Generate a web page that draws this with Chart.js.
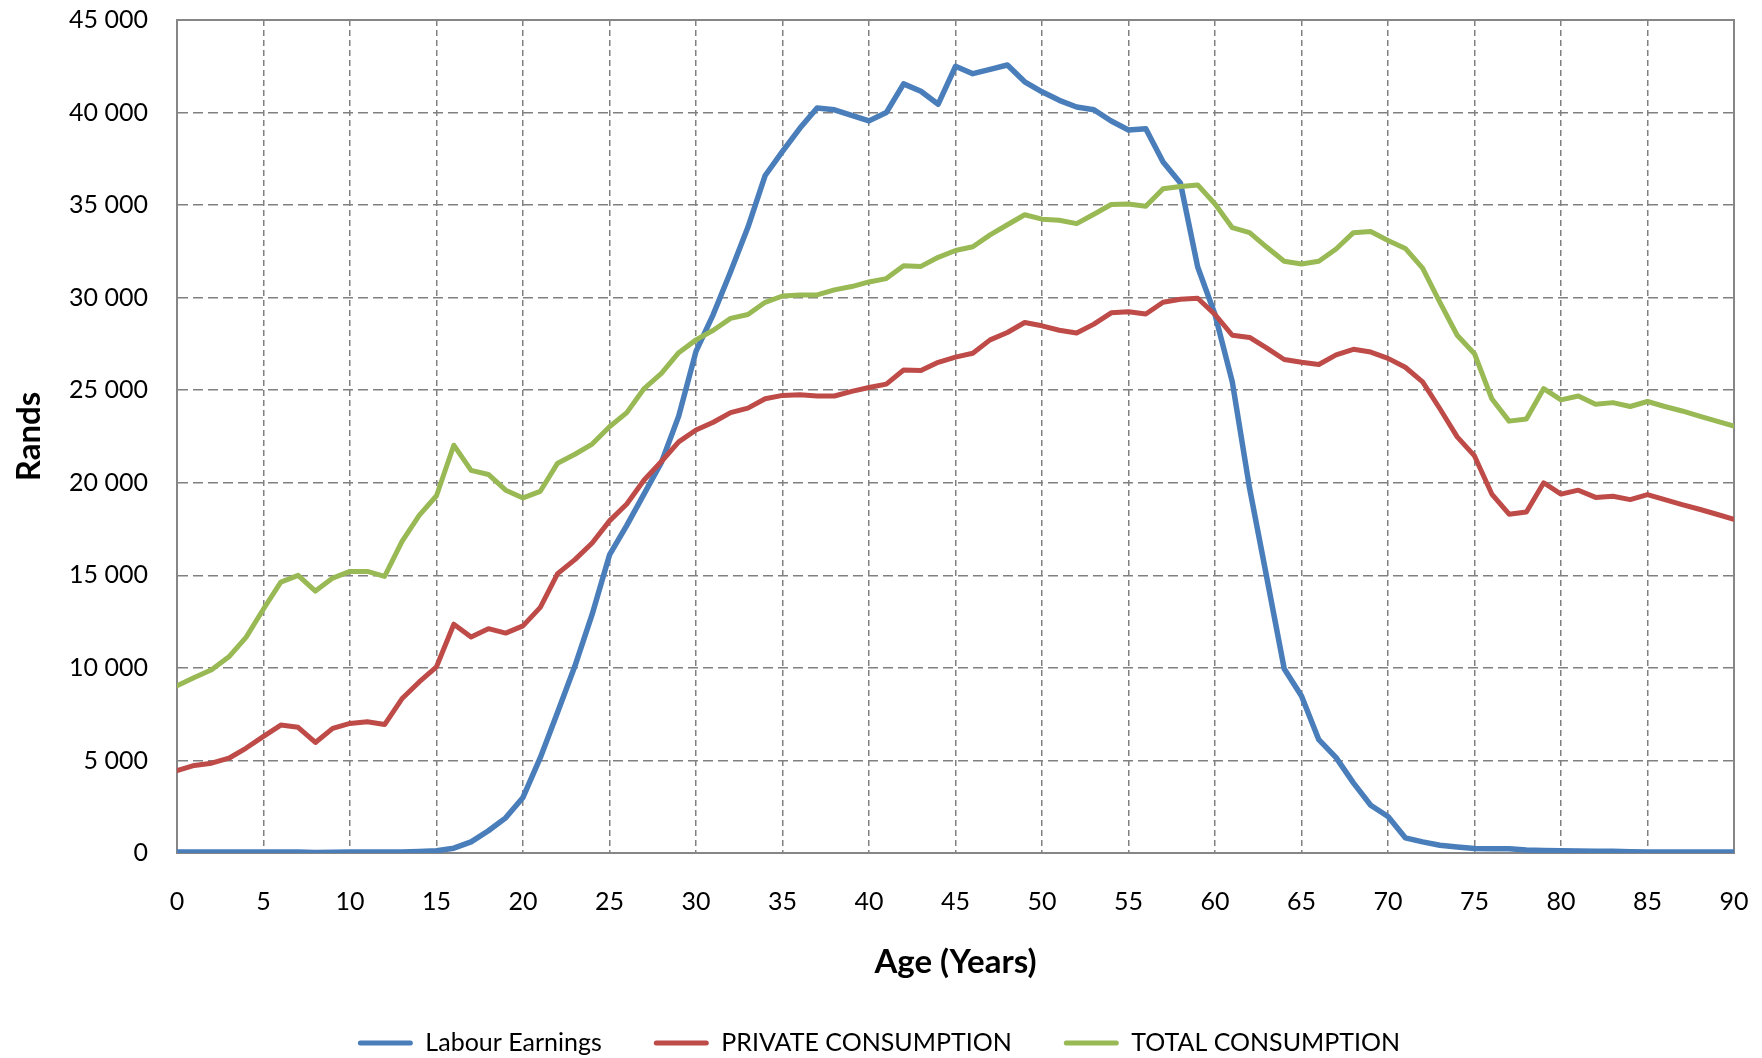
<!DOCTYPE html>
<html>
<head>
<meta charset="utf-8">
<script src="https://cdn.jsdelivr.net/npm/chart.js@4"></script>
<style>
  html, body { margin: 0; padding: 0; background: #ffffff; }
  #c { display: block; }
</style>
</head>
<body>
<canvas id="c" width="1762" height="1058"></canvas>
<script>
// ---- DATA ----
const ages = [0,1,2,3,4,5,6,7,8,9,10,11,12,13,14,15,16,17,18,19,20,21,22,23,24,25,26,27,28,29,30,
  31,32,33,34,35,36,37,38,39,40,41,42,43,44,45,46,47,48,49,50,51,52,53,54,55,56,57,58,59,60,
  61,62,63,64,65,66,67,68,69,70,71,72,73,74,75,76,77,78,79,80,81,82,83,84,85,86,87,88,89,90];

const labourEarnings = [60,60,60,60,60,55,55,50,30,40,50,50,50,60,80,120,260,600,1200,1900,3000,
  5150,7600,10100,12900,16100,17700,19400,21100,23600,27100,
  29100,31400,33800,36600,37900,39150,40250,40150,39850,39550,
  40000,41550,41150,40450,42500,42100,42330,42570,41660,41120,
  40660,40300,40150,39540,39060,39120,37330,36200,31660,29090,
  25450,19700,14850,9950,8480,6120,5150,3790,2580,1970,
  820,600,420,330,240,230,230,160,140,120,
  110,100,90,70,50,60,60,55,50,60];

const privateConsumption = [4450,4730,4850,5120,5670,6300,6910,6790,5970,6730,7000,
  7090,6940,8330,9240,10060,12360,11670,12120,11880,12270,
  13270,15090,15850,16750,17940,18850,20150,21150,22210,22850,
  23270,23790,24030,24540,24720,24750,24690,24690,24940,25150,
  25330,26090,26060,26510,26790,27000,27720,28120,28660,28480,
  28240,28090,28570,29180,29240,29120,29750,29910,29970,29090,
  27970,27850,27270,26660,26510,26390,26910,27210,27060,26720,
  26240,25450,24000,22480,21450,19390,18300,18420,20000,19390,
  19600,19210,19270,19090,19360,19090,18820,18570,18300,18030];

const totalConsumption = [9030,9480,9900,10600,11660,13180,14630,15000,14150,14850,15210,
  15210,14940,16820,18240,19300,22030,20670,20450,19600,19180,
  19540,21060,21540,22090,23030,23790,25090,25910,27030,27720,
  28240,28880,29090,29750,30090,30150,30150,30420,30600,30850,
  31030,31720,31690,32180,32550,32750,33390,33940,34480,34240,
  34180,34000,34510,35030,35060,34940,35880,36000,36090,35060,
  33780,33510,32720,31970,31820,31970,32630,33510,33570,33090,
  32660,31600,29750,27970,26970,24540,23330,23450,25090,24480,
  24690,24240,24330,24120,24390,24120,23880,23600,23330,23060];

const seriesNames = ['Labour Earnings', 'PRIVATE CONSUMPTION', 'TOTAL CONSUMPTION'];
const xTitle = 'Age (Years)';
const yTitle = 'Rands';
const xMin = 0, xMax = 90, xStep = 5;
const yMin = 0, yMax = 45000, yStep = 5000;

// ---- STYLE ----
const colors = ['#4A7EBB', '#BE4B48', '#98B954'];
const FONT = 'Lato, "Open Sans", "DejaVu Sans", sans-serif';
const gridColor = '#808080';

function pts(vals) { return ages.map((a, i) => ({ x: a, y: vals[i] })); }
function fmt(v) { return String(v).replace(/\B(?=(\d{3})+(?!\d))/g, ' '); }

const frame = {
  id: 'frame',
  beforeDatasetsDraw(chart) {
    const { ctx, chartArea: a } = chart;
    ctx.save();
    ctx.setLineDash([]);
    ctx.strokeStyle = '#868686';
    ctx.lineWidth = 2;
    ctx.strokeRect(a.left, a.top, a.right - a.left, a.bottom - a.top);
    ctx.restore();
  }
};

const mk = (i, vals, width, order) => ({
  label: seriesNames[i],
  data: pts(vals),
  borderColor: colors[i],
  backgroundColor: colors[i],
  borderWidth: width,
  pointRadius: 0,
  pointHoverRadius: 0,
  tension: 0,
  borderJoinStyle: 'round',
  borderCapStyle: 'round',
  order: order
});

new Chart(document.getElementById('c'), {
  type: 'line',
  data: {
    datasets: [
      mk(0, labourEarnings, 5.5, 3),
      mk(1, privateConsumption, 5, 2),
      mk(2, totalConsumption, 5, 1)
    ]
  },
  plugins: [frame],
  options: {
    responsive: false,
    devicePixelRatio: 1,
    animation: false,
    events: [],
    layout: { padding: { top: 20, right: 28, bottom: -7.5, left: 24 } },
    plugins: {
      tooltip: { enabled: false },
      legend: {
        position: 'bottom',
        align: 'center',
        labels: {
          font: { family: FONT, size: 25 },
          color: '#000000',
          boxWidth: 55,
          boxHeight: 5,
          padding: 52,
          useBorderRadius: true,
          borderRadius: 2.5,
          generateLabels(chart) {
            return chart.data.datasets.map((ds, i) => ({
              text: ds.label,
              fillStyle: ds.borderColor,
              strokeStyle: ds.borderColor,
              lineWidth: 0,
              hidden: false,
              datasetIndex: i,
              borderRadius: 2.5
            }));
          }
        }
      }
    },
    scales: {
      x: {
        type: 'linear',
        min: xMin, max: xMax,
        afterFit(scale) {
          scale.height = 125.5;
          scale.paddingLeft = 0;
          scale.paddingRight = 0;
        },
        ticks: {
          stepSize: xStep,
          autoSkip: false,
          maxRotation: 0,
          padding: 34,
          color: '#000000',
          font: { family: FONT, size: 25 }
        },
        grid: { color: gridColor, lineWidth: 1.5, drawTicks: false },
        border: { display: true, color: '#868686', width: 2, dash: [6, 4] },
        title: {
          display: true,
          text: xTitle,
          color: '#000000',
          font: { family: FONT, size: 33, weight: 'bold' },
          padding: { top: 0, bottom: -3.3 }
        }
      },
      y: {
        min: yMin, max: yMax,
        afterFit(scale) {
          scale.width = 153;
          scale.paddingTop = 0;
          scale.paddingBottom = 0;
        },
        ticks: {
          stepSize: yStep,
          padding: 29,
          color: '#000000',
          font: { family: FONT, size: 25 },
          callback: (v) => fmt(v)
        },
        grid: { color: gridColor, lineWidth: 1.5, drawTicks: false },
        border: { display: true, color: '#868686', width: 2, dash: [10, 5] },
        title: {
          display: true,
          text: yTitle,
          color: '#000000',
          font: { family: FONT, size: 33, weight: 'bold' },
          padding: { top: -14, bottom: 0 }
        }
      }
    }
  }
});
</script>
</body>
</html>
